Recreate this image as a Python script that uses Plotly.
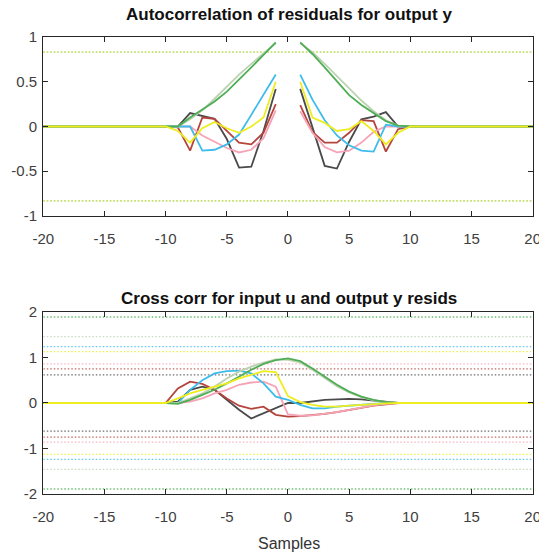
import plotly.graph_objects as go

# ---------------- data ----------------
# Top panel: autocorrelation, lags -10..-1 and 1..10 (zero outside, lag 0 omitted)
lags_neg = [-10, -9, -8, -7, -6, -5, -4, -3, -2, -1]
lags_pos = [1, 2, 3, 4, 5, 6, 7, 8, 9, 10]

ac_black_neg = [0, 0, 0.15, 0.12, 0.085, -0.14, -0.46, -0.45, -0.05, 0.42]
ac_black_pos = [0.42, -0.02, -0.44, -0.47, -0.17, 0.08, 0.11, 0.16, 0, 0]
ac_red_neg = [0, -0.01, -0.27, 0.10, 0.085, -0.05, -0.18, -0.20, -0.07, 0.25]
ac_red_pos = [0.24, -0.06, -0.18, -0.18, -0.07, 0.07, 0.06, -0.28, -0.03, 0]
ac_pink_neg = [0, 0, 0, -0.10, -0.17, -0.24, -0.29, -0.26, -0.13, 0.18]
ac_pink_pos = [0.17, -0.07, -0.23, -0.29, -0.27, -0.18, -0.06, 0, 0, 0]
ac_cyan_neg = [0, 0, 0, -0.27, -0.26, -0.20, -0.09, 0.13, 0.35, 0.58]
ac_cyan_pos = [0.58, 0.30, 0.07, -0.10, -0.21, -0.27, -0.28, 0.02, 0, 0]
ac_lgreen_neg = [0, 0, 0.08, 0.18, 0.31, 0.45, 0.58, 0.70, 0.82, 0.93]
ac_lgreen_pos = [0.93, 0.83, 0.70, 0.56, 0.42, 0.29, 0.17, 0.07, 0.01, 0]
ac_green_neg = [0, 0, 0.10, 0.19, 0.28, 0.39, 0.52, 0.66, 0.80, 0.94]
ac_green_pos = [0.94, 0.81, 0.66, 0.50, 0.35, 0.24, 0.15, 0.06, 0.01, 0]
ac_yellow_neg = [0, -0.05, -0.18, -0.02, 0.05, -0.02, -0.07, 0.0, 0.10, 0.50]
ac_yellow_pos = [0.50, 0.10, 0.04, -0.05, -0.03, 0.06, -0.05, -0.20, -0.07, 0]
ac_conf = 0.83

# Bottom panel: cross-correlation, lags -10..10 (zero outside)
cc_lags = list(range(-10, 11))
cc_black = [0, 0.03, 0.29, 0.36, 0.29, 0.07, -0.15, -0.34, -0.23, -0.12, 0,
            0, 0.03, 0.07, 0.08, 0.09, 0.08, 0.05, 0.02, 0, 0]
cc_red = [0, 0.32, 0.47, 0.42, 0.29, 0.10, -0.06, -0.13, -0.08, -0.26, -0.30,
          -0.29, -0.27, -0.24, -0.20, -0.15, -0.10, -0.06, -0.03, 0, 0]
cc_pink = [0, 0, 0.03, 0.10, 0.21, 0.29, 0.40, 0.45, 0.47, 0.36, -0.25,
           -0.28, -0.27, -0.24, -0.20, -0.15, -0.10, -0.05, -0.02, 0, 0]
cc_cyan = [0, 0.0, 0.29, 0.50, 0.65, 0.70, 0.71, 0.65, 0.43, 0.14, 0.07,
           -0.04, -0.12, -0.12, -0.08, -0.06, -0.03, -0.01, 0, 0, 0]
cc_lgreen = [0, 0, 0.10, 0.21, 0.36, 0.54, 0.69, 0.80, 0.89, 0.96, 0.95,
             0.89, 0.73, 0.55, 0.37, 0.23, 0.13, 0.06, 0.02, 0, 0]
cc_green = [0, -0.02, 0.07, 0.18, 0.29, 0.43, 0.58, 0.73, 0.86, 0.94, 0.98,
            0.92, 0.76, 0.58, 0.40, 0.25, 0.14, 0.07, 0.02, 0, 0]
cc_yellow = [0, 0.10, 0.21, 0.29, 0.36, 0.43, 0.54, 0.62, 0.70, 0.68, 0.15,
             0.02, -0.04, -0.08, -0.08, -0.06, -0.04, -0.02, -0.01, 0, 0]

cc_conf = {"green": 1.89, "lgreen": 1.46, "cyan": 1.24, "yellow": 1.13,
           "pink": 0.86, "red": 0.75, "black": 0.62}

x_range = [-20, 20]
x_ticks = [-20, -15, -10, -5, 0, 5, 10, 15, 20]
x_ticktext = ["-20", "-15", "-10", "-5", "0", "5", "10", "15", "20"]
y1_ticks = [-1, -0.5, 0, 0.5, 1]
y1_ticktext = ["-1", "-0.5", "0", "0.5", "1"]
y2_ticks = [-2, -1, 0, 1, 2]
y2_ticktext = ["-2", "-1", "0", "1", "2"]

# ---------------- styles ----------------
COL = {"black": "#4a4a4a", "red": "#b5453c", "pink": "#f5a3b5",
       "cyan": "#3dbcec", "lgreen": "#bcd2b2", "green": "#4fae55",
       "yellow": "#eded1f"}
order = ["black", "red", "pink", "cyan", "lgreen", "green", "yellow"]

ac = {"black": (ac_black_neg, ac_black_pos), "red": (ac_red_neg, ac_red_pos),
      "pink": (ac_pink_neg, ac_pink_pos), "cyan": (ac_cyan_neg, ac_cyan_pos),
      "lgreen": (ac_lgreen_neg, ac_lgreen_pos), "green": (ac_green_neg, ac_green_pos),
      "yellow": (ac_yellow_neg, ac_yellow_pos)}
cc = {"black": cc_black, "red": cc_red, "pink": cc_pink, "cyan": cc_cyan,
      "lgreen": cc_lgreen, "green": cc_green, "yellow": cc_yellow}

DOT = "1.5px,2px"
fig = go.Figure()

# top confidence lines
for c in ["green", "yellow"]:
    for s in (1, -1):
        fig.add_trace(go.Scatter(x=x_range, y=[s * ac_conf] * 2, mode="lines",
                                 line=dict(color=COL[c], width=1.3, dash=DOT),
                                 opacity=0.7, xaxis="x", yaxis="y", showlegend=False,
                                 hoverinfo="skip"))
# bottom confidence lines
for c, v in cc_conf.items():
    for s in (1, -1):
        fig.add_trace(go.Scatter(x=x_range, y=[s * v] * 2, mode="lines",
                                 line=dict(color=COL[c], width=1.3, dash=DOT),
                                 opacity=0.8, xaxis="x2", yaxis="y2", showlegend=False,
                                 hoverinfo="skip"))

for c in order:
    neg, pos = ac[c]
    xs = [x_range[0]] + lags_neg + [None] + lags_pos + [x_range[1]]
    ys = [0] + neg + [None] + pos + [0]
    fig.add_trace(go.Scatter(x=xs, y=ys, mode="lines", connectgaps=False,
                             line=dict(color=COL[c], width=1.8),
                             xaxis="x", yaxis="y", showlegend=False))
for c in order:
    xs = [x_range[0]] + cc_lags + [x_range[1]]
    ys = [0] + cc[c] + [0]
    fig.add_trace(go.Scatter(x=xs, y=ys, mode="lines",
                             line=dict(color=COL[c], width=1.8),
                             xaxis="x2", yaxis="y2", showlegend=False))

FONT = "Liberation Sans"
axis_common = dict(showgrid=False, zeroline=False, showline=True, linecolor="#262626",
                   linewidth=1.2, mirror="ticks", ticks="inside", ticklen=5,
                   tickcolor="#262626", automargin=False, ticklabeloverflow="allow",
                   tickfont=dict(family=FONT, size=15, color="#404040"))
xd = [0.0803, 0.9883]
fig.update_layout(
    template="none",
    width=539, height=552, margin=dict(l=0, r=0, t=0, b=0, pad=0),
    paper_bgcolor="white", plot_bgcolor="white",
    xaxis=dict(domain=xd, range=x_range, tickvals=x_ticks, ticktext=x_ticktext,
               anchor="y", ticklabelstandoff=9, **axis_common),
    yaxis=dict(domain=[0.6087, 0.933], range=[-1, 1], tickvals=y1_ticks,
               ticktext=y1_ticktext, anchor="x", ticklabelstandoff=2, **axis_common),
    xaxis2=dict(domain=xd, range=x_range, tickvals=x_ticks, ticktext=x_ticktext,
                anchor="y2", ticklabelstandoff=9, **axis_common),
    yaxis2=dict(domain=[0.1051, 0.4348], range=[-2, 2], tickvals=y2_ticks,
                ticktext=y2_ticktext, anchor="x2", ticklabelstandoff=2, **axis_common),
    annotations=[
        dict(text="<b>Autocorrelation of residuals for output y</b>", x=0.536, y=(552 - 14) / 552,
             xref="paper", yref="paper", showarrow=False, yanchor="middle",
             font=dict(family=FONT, size=17, color="#111111")),
        dict(text="<b>Cross corr for input u and output y resids</b>", x=0.536, y=(552 - 298) / 552,
             xref="paper", yref="paper", showarrow=False, yanchor="middle",
             font=dict(family=FONT, size=17, color="#111111")),
        dict(text="Samples", x=0.536, y=(552 - 543) / 552, xref="paper", yref="paper",
             showarrow=False, yanchor="middle",
             font=dict(family=FONT, size=16, color="#333333")),
    ],
)

fig.write_html("out.html")
